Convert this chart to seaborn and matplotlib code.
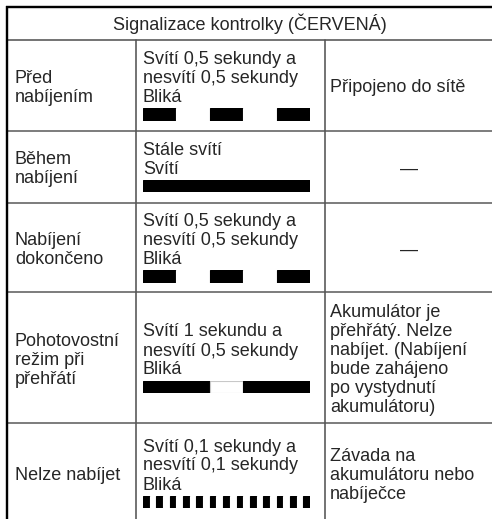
import numpy as np
import matplotlib.pyplot as plt
import seaborn as sns

# obsah tabulky
nadpis = "Signalizace kontrolky (ČERVENÁ)"
stav = [["Před", "nabíjením"],
        ["Během", "nabíjení"],
        ["Nabíjení", "dokončeno"],
        ["Pohotovostní", "režim při", "přehřátí"],
        ["Nelze nabíjet"]]
popis = [["Svítí 0,5 sekundy a", "nesvítí 0,5 sekundy", "Bliká"],
         ["Stále svítí", "Svítí"],
         ["Svítí 0,5 sekundy a", "nesvítí 0,5 sekundy", "Bliká"],
         ["Svítí 1 sekundu a", "nesvítí 0,5 sekundy", "Bliká"],
         ["Svítí 0,1 sekundy a", "nesvítí 0,1 sekundy", "Bliká"]]
vyznam = [["Připojeno do sítě"],
          ["—"],
          ["—"],
          ["Akumulátor je", "přehřátý. Nelze", "nabíjet. (Nabíjení",
           "bude zahájeno", "po vystydnutí", "akumulátoru)"],
          ["Závada na", "akumulátoru nebo", "nabíječce"]]

# doby svitu / zhasnuti v sekundach
sviti = [0.5, 2.5, 0.5, 1.0, 0.1]
nesviti = [0.5, 0.0, 0.5, 0.5, 0.1]
okno = 2.5  # zobrazeny usek casu

sns.set_theme(style="white")
plt.rcParams['font.family'] = ['Liberation Sans', 'DejaVu Sans']

W, H = 492, 519
fig = plt.figure(figsize=(W / 100, H / 100), dpi=100)
ax = fig.add_axes([0, 0, 1, 1])
ax.set_xlim(0, W)
ax.set_ylim(H, 0)
ax.axis('off')

px = 0.72  # 1 pixel v bodech
fs = 13
krok = 19  # radkovani v pixelech

# mrizka tabulky
radky = [40, 130.5, 202.5, 292, 423, 522]
sloupce = [7, 136, 325, 492]
sediva = '#555555'
for y in radky[1:-1]:
    ax.plot([sloupce[0], W], [y, y], color=sediva, lw=1.5 * px)
ax.plot([sloupce[0], W], [radky[0], radky[0]], color=sediva, lw=1.6 * px)
for x in sloupce[1:3]:
    ax.plot([x, x], [radky[0], H], color=sediva, lw=1.6 * px)
ax.plot([6, W], [7.2, 7.2], color='black', lw=2.4 * px, solid_capstyle='butt')
ax.plot([7.2, 7.2], [6, H], color='black', lw=2.4 * px, solid_capstyle='butt')

ax.text(250, 30, nadpis, ha='center', va='baseline', fontsize=fs)


def blok(radky_textu, y0, y1, x, ha='left', pruh=False):
    n = len(radky_textu)
    vyska = n * krok - 4.5 + (18.5 if pruh else 0)
    top = (y0 + y1) / 2 - vyska / 2
    for i, t in enumerate(radky_textu):
        ax.text(x, top + 14.5 + i * krok, t, ha=ha, va='baseline', fontsize=fs)
    return top + 14.5 + (n - 1) * krok


for i in range(5):
    y0, y1 = radky[i], radky[i + 1]
    blok(stav[i], y0, y1, 15)
    if vyznam[i] == ["—"]:
        blok(vyznam[i], y0, y1, (325 + 492) / 2, ha='center')
    else:
        blok(vyznam[i], y0, y1, 330)
    posl = blok(popis[i], y0, y1, 143, pruh=True)

    # prubeh blikani
    zac, stavy, delky = 0.0, [], []
    on = True
    while zac < okno - 1e-9:
        d = min(sviti[i] if on else nesviti[i], okno - zac)
        stavy.append(on)
        delky.append(d)
        zac += d
        on = not on if nesviti[i] > 0 else True
    leve = np.concatenate([[0], np.cumsum(delky)[:-1]])
    bt, bh = posl + 6, 12.5
    bax = fig.add_axes([143 / W, 1 - (bt + bh) / H, 167 / W, bh / H])
    bax.set_xlim(0, okno)
    bax.set_ylim(-0.5, 0.5)
    bax.axis('off')
    barvy = ['black' if s else 'white' for s in stavy]
    hrany = ['black' if s else ('#c8c8c8' if i == 3 else 'white') for s in stavy]
    bax.barh(np.zeros(len(delky)), delky, left=leve, height=1.0,
             color=barvy, edgecolor=hrany, linewidth=0.8)

fig.savefig('out.png', dpi=100)
